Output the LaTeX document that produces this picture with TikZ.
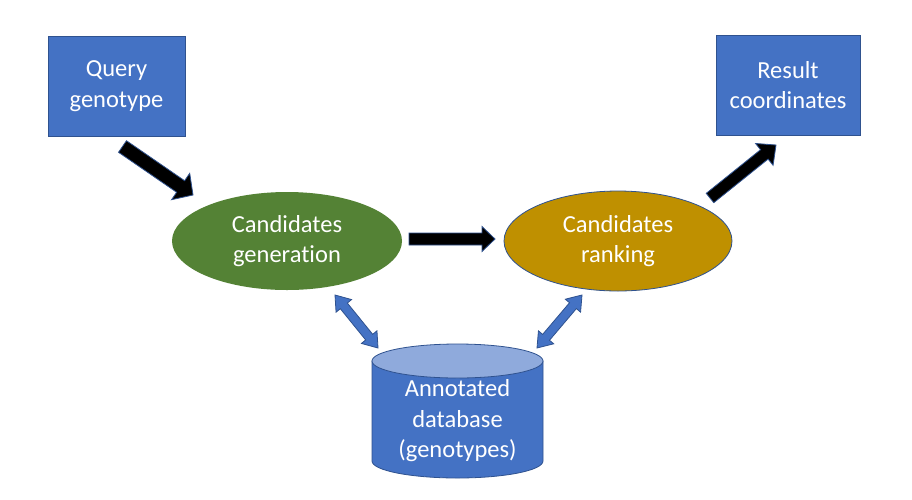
\documentclass[tikz,border=0pt]{standalone}
\usepackage{fontspec}
\setmainfont[Ligatures=NoCommon]{Carlito}
\usetikzlibrary{shapes.geometric,calc}
\definecolor{boxblue}{HTML}{4472C4}
\definecolor{edgeblue}{HTML}{2F528F}
\definecolor{topblue}{HTML}{8FAADC}
\definecolor{genfill}{HTML}{548235}
\definecolor{rankfill}{HTML}{BF9000}
\newcommand\blockarrow[6]{%
  \coordinate (bh) at ($(#3)!#6!(#2)$);
  \draw[#1] ($(#2)!#4!90:(#3)$) -- ($(bh)!#4!90:(#3)$) -- ($(bh)!#5!90:(#3)$) -- (#3)
    -- ($(bh)!#5!-90:(#3)$) -- ($(bh)!#4!-90:(#3)$) -- ($(#2)!#4!-90:(#3)$) -- cycle;}
\newcommand\dblarrow[6]{%
  \coordinate (ha) at ($(#2)!#6!(#3)$);
  \coordinate (hb) at ($(#3)!#6!(#2)$);
  \draw[#1] (#2) -- ($(ha)!#5!90:(#3)$) -- ($(ha)!#4!90:(#3)$) -- ($(hb)!#4!90:(#3)$)
    -- ($(hb)!#5!90:(#3)$) -- (#3) -- ($(hb)!#5!-90:(#3)$) -- ($(hb)!#4!-90:(#3)$)
    -- ($(ha)!#4!-90:(#3)$) -- ($(ha)!#5!-90:(#3)$) -- cycle;}
\tikzset{
  txt/.style={text=white, font=\fontsize{24.5}{30.5}\selectfont, align=center},
  sqbox/.style={txt, draw=edgeblue, line width=0.8pt, fill=boxblue, inner sep=0pt},
  ell/.style={txt, ellipse, inner sep=0pt},
  blackarr/.style={fill=black, draw=edgeblue, line width=0.8pt, line join=miter},
  bluearr/.style={fill=boxblue, draw=edgeblue, line width=0.8pt, line join=miter},
}
\begin{document}
\begin{tikzpicture}[x=1pt,y=-1pt]
\useasboundingbox[fill=white] (0,0) rectangle (912,499);
% boxes
\node[sqbox, minimum width=137pt, minimum height=100pt] (qg) at (116.5,86) {Query\\genotype};
\node[sqbox, minimum width=144pt, minimum height=100pt] (rc) at (788,85) {Result\\coordinates};
% ellipses
\node[ell, fill=genfill, minimum width=230pt, minimum height=98pt] (cg) at (287,241) {Candidates\\generation};
\node[ell, fill=rankfill, draw=edgeblue, line width=0.8pt, minimum width=228pt, minimum height=100pt] (cr) at (618,241) {Candidates\\ranking};
% cylinder
\draw[fill=boxblue, draw=edgeblue, line width=0.8pt] (372,361) -- (372,461)
  arc[start angle=180, end angle=0, x radius=85.5, y radius=17] -- (543,361) -- cycle;
\draw[fill=topblue, draw=edgeblue, line width=0.8pt] (457.5,361) ellipse[x radius=85.5, y radius=17];
\node[txt, inner sep=0pt] (db) at (457.5,421) {Annotated\\database\\(genotypes)};
% arrow end points
\coordinate (a1s) at (122.5,146.5);
\coordinate (a1e) at (193,195);
\coordinate (a2s) at (409,239);
\coordinate (a2e) at (495,239);
\coordinate (a3s) at (710,198);
\coordinate (a3e) at (776,145);
\coordinate (d1s) at (335,295);
\coordinate (d1e) at (378,348);
\coordinate (d2s) at (582,295);
\coordinate (d2e) at (537,348);
\blockarrow{blackarr}{a1s}{a1e}{7pt}{16pt}{15pt}
\blockarrow{blackarr}{a2s}{a2e}{6pt}{12.5pt}{13pt}
\blockarrow{blackarr}{a3s}{a3e}{6pt}{14pt}{15pt}
\dblarrow{bluearr}{d1s}{d1e}{4.5pt}{10pt}{14pt}
\dblarrow{bluearr}{d2s}{d2e}{4.5pt}{10pt}{14pt}
\end{tikzpicture}
\end{document}
